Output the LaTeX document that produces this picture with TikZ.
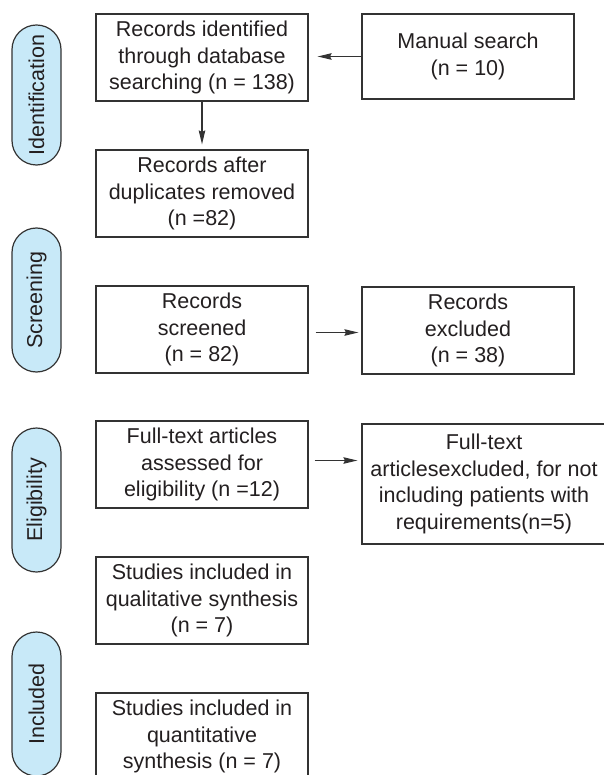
\documentclass[tikz,border=0pt]{standalone}
\usepackage{fontspec}
\setmainfont{Liberation Sans}
\usetikzlibrary{arrows.meta}
\definecolor{linec}{HTML}{333333}
\definecolor{textc}{HTML}{231F20}
\definecolor{pillc}{HTML}{C8E9F8}
\begin{document}
\begin{tikzpicture}[x=1pt,y=1pt,
  box/.style={draw=linec,line width=1.2pt,rectangle,inner sep=0pt,align=center,
    minimum width=212pt,minimum height=87pt,text=textc,
    font=\fontsize{21.5}{26.5}\selectfont},
  pill/.style={draw=linec,line width=1.2pt,fill=pillc,rectangle,rounded corners=24.5pt,
    rotate=90,inner sep=0pt,minimum height=49pt,text=textc,
    font=\fontsize{21.5}{26.5}\selectfont},
  arr/.style={draw=linec,line width=1.2pt,-{Stealth[length=14pt,width=6.5pt,inset=1.5pt]}}]
\useasboundingbox (0,0) rectangle (603,-775);
% phase pills
\node[pill,minimum width=140pt] (pid) at (36.5,-95) {Identification};
\node[pill,minimum width=144pt] (psc) at (36.5,-300) {Screening};
\node[pill,minimum width=144pt] (pel) at (36.5,-500) {Eligibility};
\node[pill,minimum width=144pt] (pin) at (36.5,-704) {Included};
% boxes
\node[box] (rid) at (202,-57.5) {Records identified\\through database\\searching (n = 138)};
\node[box,minimum height=85pt] (man) at (468,-56.5) {Manual search\\(n = 10)};
\node[box] (dup) at (202,-193.5) {Records after\\duplicates removed\\(n =82)};
\node[box] (scr) at (202,-329.5) {Records\\screened\\(n = 82)};
\node[box] (exc) at (468,-330.5) {Records\\excluded\\(n = 38)};
\node[box] (eli) at (202,-464.5) {Full-text articles\\assessed for\\eligibility (n =12)};
\node[box,minimum width=244pt,minimum height=120pt] (fte) at (484,-484) {Full-text\\articlesexcluded, for not\\including patients with\\requirements(n=5)};
\node[box] (qual) at (202,-600.5) {Studies included in\\qualitative synthesis\\(n = 7)};
\node[box] (quan) at (202,-736.5) {Studies included in\\quantitative\\synthesis (n = 7)};
% connectors
\draw[arr,shorten >=5pt] (rid.south) -- (dup.north);
\draw[arr,shorten >=9pt] (man.west) -- (man.west -| rid.east);
\draw[arr] ([xshift=7pt,yshift=-3pt]scr.east) -- ([xshift=-3pt,yshift=-3pt]scr.east -| exc.west);
\draw[arr] ([xshift=6pt,yshift=4pt]eli.east) -- ([xshift=-4pt,yshift=4pt]eli.east -| fte.west);
\end{tikzpicture}
\end{document}
